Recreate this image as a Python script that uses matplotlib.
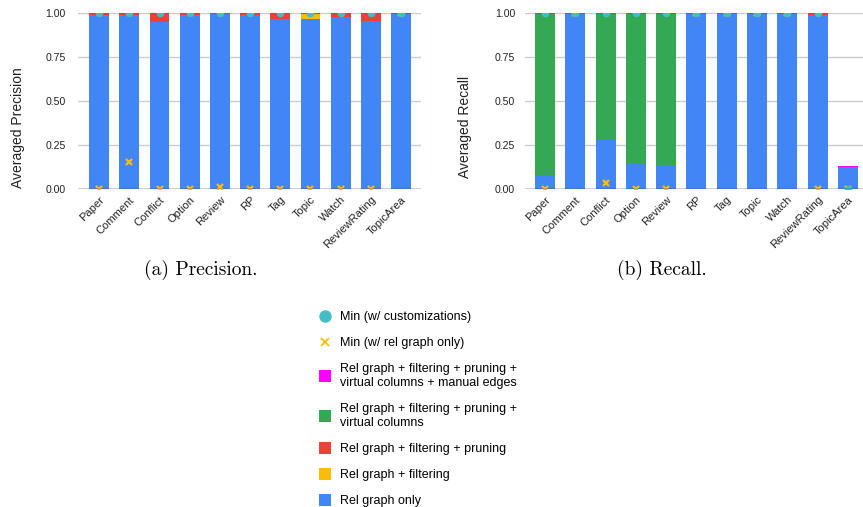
import matplotlib
matplotlib.use("Agg")
import matplotlib.pyplot as plt
from matplotlib.lines import Line2D
import numpy as np

plt.rcParams['font.family'] = ['Liberation Sans', 'DejaVu Sans']

categories = ["Paper", "Comment", "Conflict", "Option", "Review", "RP", "Tag",
              "Topic", "Watch", "ReviewRating", "TopicArea"]

# precision, stacked increments
prec_rel_only = [0.990, 0.990, 0.953, 0.990, 0.996, 0.990, 0.968, 0.968, 0.979, 0.956, 0.996]
prec_filtering = [0, 0, 0, 0, 0, 0, 0, 0.028, 0, 0, 0]
prec_pruning = [0.006, 0.006, 0.043, 0.006, 0, 0.006, 0.028, 0, 0.017, 0.040, 0]
prec_virtual = [0, 0, 0, 0, 0, 0, 0, 0, 0, 0, 0]
prec_manual = [0.004, 0.004, 0.004, 0.004, 0.004, 0.004, 0.004, 0.004, 0.004, 0.004, 0.004]
prec_min_custom = [1, 1, 1, 1, 1, 1, 1, 1, 1, 1, 1]
prec_min_rel = [0.0, 0.156, 0.0, 0.0, 0.01, 0.0, 0.0, 0.0, 0.0, 0.0, 1.0]

# recall, stacked increments
rec_rel_only = [0.080, 0.996, 0.285, 0.144, 0.137, 0.996, 0.996, 0.996, 0.996, 0.990, 0.123]
rec_filtering = [0, 0, 0, 0, 0, 0, 0, 0, 0, 0, 0]
rec_pruning = [0, 0, 0, 0, 0, 0, 0, 0, 0, 0.006, 0]
rec_virtual = [0.916, 0, 0.711, 0.852, 0.859, 0, 0, 0, 0, 0, 0]
rec_manual = [0.004, 0.004, 0.004, 0.004, 0.004, 0.004, 0.004, 0.004, 0.004, 0.004, 0.010]
rec_min_custom = [1, 1, 1, 1, 1, 1, 1, 1, 1, 1, 0]
rec_min_rel = [0, 1, 0.036, 0, 0, 1, 1, 1, 1, 0, 0]

BLUE = "#4285F4"
YELLOW = "#FBBC04"
RED = "#EA4335"
GREEN = "#34A853"
MAGENTA = "#FF00FF"
TEAL = "#46BDC6"

series_labels = ["Rel graph only", "Rel graph + filtering", "Rel graph + filtering + pruning",
                 "Rel graph + filtering + pruning +\nvirtual columns",
                 "Rel graph + filtering + pruning +\nvirtual columns + manual edges"]
series_colors = [BLUE, YELLOW, RED, GREEN, MAGENTA]


def draw(ax, stacks, min_custom, min_rel, ylabel, xlim, pad, labx):
    x = np.arange(len(categories))
    bottom = np.zeros(len(categories))
    for vals, col in zip(stacks, series_colors):
        ax.bar(x, vals, 0.66, bottom=bottom, color=col, zorder=2, linewidth=0)
        bottom += np.array(vals)
    ax.plot(x, min_rel, linestyle="none", marker="x", color=YELLOW, ms=5, mew=1.6, zorder=3)
    ax.plot(x, min_custom, linestyle="none", marker="o", color=TEAL, ms=5.5, mew=0, zorder=4)
    ax.set_ylim(0, 1)
    ax.set_xlim(*xlim)
    ax.set_yticks([0, 0.25, 0.5, 0.75, 1.0])
    ax.set_yticklabels(["0.00", "0.25", "0.50", "0.75", "1.00"])
    ax.yaxis.grid(True, color="#cccccc", lw=1, zorder=0)
    ax.axhline(0, color="#333333", lw=1, zorder=5)
    for s in ax.spines.values():
        s.set_visible(False)
    ax.tick_params(axis="both", length=0, colors="#222222")
    ax.tick_params(axis="y", pad=pad, labelsize=7.6)
    ax.set_xticks(x)
    ax.set_xticklabels(categories, rotation=45, ha="right", rotation_mode="anchor")
    ax.tick_params(axis="x", pad=4, labelsize=8)
    ax.set_ylabel(ylabel, fontsize=10, color="#222222")
    ax.yaxis.set_label_coords(labx, 0.352)


fig = plt.figure(figsize=(8.63, 5.07), dpi=100)
ax1 = fig.add_axes([0.0904, 0.6272, 0.3974, 0.3466])
ax2 = fig.add_axes([0.6083, 0.6272, 0.3917, 0.3466])

draw(ax1, [prec_rel_only, prec_filtering, prec_pruning, prec_virtual, prec_manual],
     prec_min_custom, prec_min_rel, "Averaged Precision", (-0.7, 10.66), 9, -0.155)
draw(ax2, [rec_rel_only, rec_filtering, rec_pruning, rec_virtual, rec_manual],
     rec_min_custom, rec_min_rel, "Averaged Recall", (-0.66, 10.5), 7, -0.157)

fig.text(201 / 863, 1 - 270 / 507, "(a) Precision.", family="cmr10", fontsize=14,
         ha="center", va="center")
fig.text(662 / 863, 1 - 270 / 507, "(b) Recall.", family="cmr10", fontsize=14,
         ha="center", va="center")

handles = [Line2D([], [], linestyle="none", marker="o", color=TEAL, ms=9, mew=0),
           Line2D([], [], linestyle="none", marker="x", color=YELLOW, ms=5.5, mew=1.3)]
labels = ["Min (w/ customizations)", "Min (w/ rel graph only)"]
for lab, col in zip(series_labels[::-1], series_colors[::-1]):
    handles.append(Line2D([], [], linestyle="none", marker="s", color=col, ms=8.5, mew=0))
    labels.append(lab)

fig.legend(handles, labels, loc="upper left", bbox_to_anchor=(319 / 863, 1 - 311 / 507),
           frameon=False, fontsize=9, labelspacing=1.13, handlelength=1.0,
           handletextpad=0.68, borderpad=0, borderaxespad=0)

fig.savefig("out.png", dpi=100)
